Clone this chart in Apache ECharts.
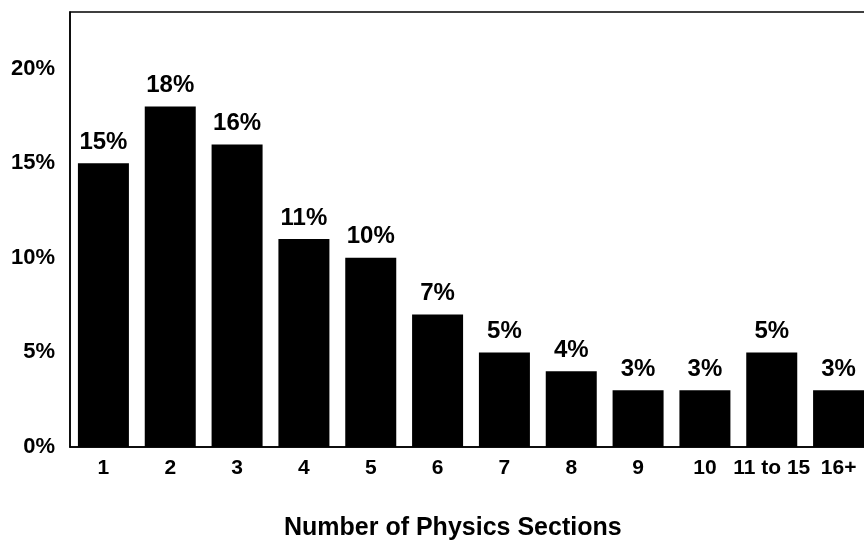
<!DOCTYPE html>
<html><head><meta charset="utf-8">
<script src="https://cdn.jsdelivr.net/npm/echarts@6/dist/echarts.min.js"></script>
<style>html,body{margin:0;padding:0;background:#fff}#c{width:864px;height:541px}</style>
</head><body><div id="c"></div>
<script>
const categories = ['1','2','3','4','5','6','7','8','9','10','11 to 15','16+'];
const values = [15,18,16,11,10,7,5,4,3,3,5,3];
const yTicks = [0,5,10,15,20];
const axisTitle = 'Number of Physics Sections';

const chart = echarts.init(document.getElementById('c'));
const font = '"Liberation Sans", Arial, sans-serif';
chart.setOption({
  backgroundColor: '#fff',
  animation: false,
  title: {
    text: axisTitle, left: 279, top: 511,
    textStyle: {fontFamily: font, fontWeight: 'bold', fontSize: 25, color: '#000'}
  },
  grid: {left: 70, top: 12, width: 802, height: 435, show: true, borderColor: '#000', borderWidth: 1.5,
    containLabel: false, outerBoundsMode: 'none'},
  xAxis: {
    type: 'category', data: categories,
    axisLine: {show: true, lineStyle: {color: '#000', width: 1.5}},
    axisTick: {show: false},
    axisLabel: {margin: 11, fontFamily: font, fontWeight: 'bold', fontSize: 21, color: '#000', interval: 0}
  },
  yAxis: {
    type: 'value', min: 0, max: 23, interval: 5,
    axisLine: {show: true, lineStyle: {color: '#000', width: 1.5}},
    axisTick: {show: false},
    splitLine: {show: false},
    axisLabel: {margin: 15, fontFamily: font, fontWeight: 'bold', fontSize: 22, color: '#000',
      formatter: v => yTicks.includes(v) ? v + '%' : ''}
  },
  series: [{
    type: 'bar', data: values, barWidth: 51,
    itemStyle: {color: '#000'},
    label: {show: true, position: 'top', distance: 9, formatter: p => p.value + '%',
      fontFamily: font, fontWeight: 'bold', fontSize: 24, color: '#000'}
  }]
});
</script></body></html>
